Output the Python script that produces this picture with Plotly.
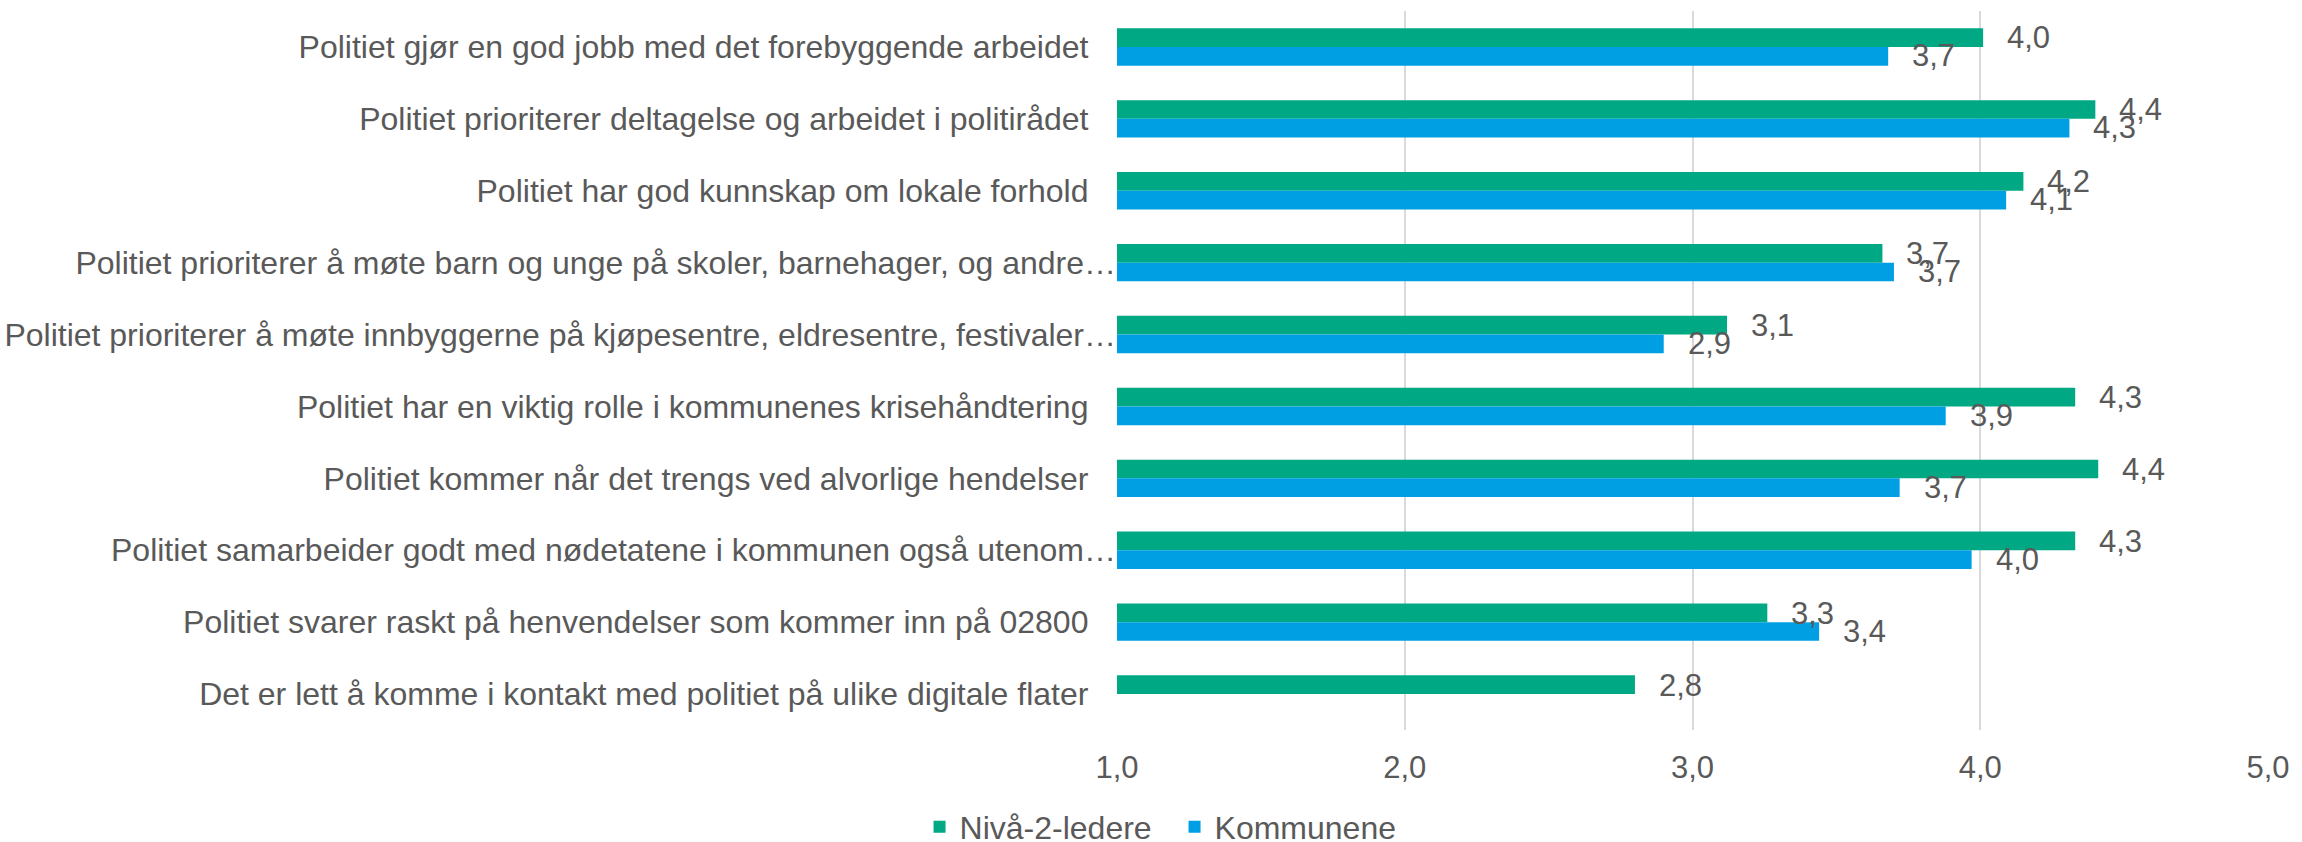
import plotly.graph_objects as go

categories = [
    "Politiet gjør en god jobb med det forebyggende arbeidet",
    "Politiet prioriterer deltagelse og arbeidet i politirådet",
    "Politiet har god kunnskap om lokale forhold",
    "Politiet prioriterer å møte barn og unge på skoler, barnehager, og andre…",
    "Politiet prioriterer å møte innbyggerne på kjøpesentre, eldresentre, festivaler…",
    "Politiet har en viktig rolle i kommunenes krisehåndtering",
    "Politiet kommer når det trengs ved alvorlige hendelser",
    "Politiet samarbeider godt med nødetatene i kommunen også utenom…",
    "Politiet svarer raskt på henvendelser som kommer inn på 02800",
    "Det er lett å komme i kontakt med politiet på ulike digitale flater",
]
niva2 = [4.01, 4.40, 4.15, 3.66, 3.12, 4.33, 4.41, 4.33, 3.26, 2.80]
kommunene = [3.68, 4.31, 4.09, 3.70, 2.90, 3.88, 3.72, 3.97, 3.44, None]
x_ticks = [1.0, 2.0, 3.0, 4.0, 5.0]

GREEN = "#00A984"
BLUE = "#009FE3"
TXT = "#595959"
FONT = "Liberation Sans, Arial, sans-serif"
FS_CAT = 32
FS = 31

fig = go.Figure()
fig.add_trace(go.Bar(y=categories, x=niva2, name="Nivå-2-ledere", orientation="h",
                     marker=dict(color=GREEN, line=dict(width=0))))
fig.add_trace(go.Bar(y=categories, x=kommunene, name="Kommunene", orientation="h",
                     marker=dict(color=BLUE, line=dict(width=0))))

def fmt(v):
    return f"{v:.1f}".replace(".", ",")

annotations = []
for cat, v in zip(categories, niva2):
    if v is not None:
        annotations.append(dict(x=v, y=cat, xref="x", yref="y", text=fmt(v), showarrow=False,
                                xanchor="left", yanchor="middle", xshift=22, yshift=9,
                                font=dict(family=FONT, size=FS, color=TXT)))
for cat, v in zip(categories, kommunene):
    if v is not None:
        annotations.append(dict(x=v, y=cat, xref="x", yref="y", text=fmt(v), showarrow=False,
                                xanchor="left", yanchor="middle", xshift=22, yshift=-9,
                                font=dict(family=FONT, size=FS, color=TXT)))

# truncated labels sit flush with the axis, full labels keep a gap
PAD = "\u2002\u2008\u200a"
ticktext = [c if c.endswith("…") else c + PAD for c in categories]

W, H = 2302, 842
L, R, T, B = 1117, 2302 - 2268, 11, 842 - 730

fig.update_layout(
    width=W, height=H,
    margin=dict(l=L, r=R, t=T, b=B, autoexpand=False),
    paper_bgcolor="white", plot_bgcolor="white",
    barmode="group", bargap=0.48, bargroupgap=0,
    separators=", ",
    font=dict(family=FONT, size=FS, color=TXT),
    showlegend=True,
    legend=dict(orientation="h", x=0.050, xanchor="center", y=-0.135, yanchor="middle",
                font=dict(family=FONT, size=32, color=TXT), traceorder="normal",
                itemwidth=30, entrywidth=210, entrywidthmode="pixels"),
    annotations=annotations,
)
fig.update_xaxes(range=[1, 5], tickvals=x_ticks, tickformat=".1f", showgrid=True,
                 gridcolor="#D9D9D9", gridwidth=1.5, zeroline=False, showline=False, ticks="",
                 ticklabelstandoff=16, tickfont=dict(family=FONT, size=FS, color=TXT))
fig.update_yaxes(autorange="reversed", tickmode="array", tickvals=categories, ticktext=ticktext,
                 showgrid=False, zeroline=False, showline=False, ticks="",
                 ticklabelstandoff=0, tickfont=dict(family=FONT, size=FS_CAT, color=TXT))

fig.write_html("out.html", config={"displayModeBar": False},
               post_script="document.body.style.margin='0';document.body.style.padding='0';"
                           "document.body.style.overflow='hidden';")
